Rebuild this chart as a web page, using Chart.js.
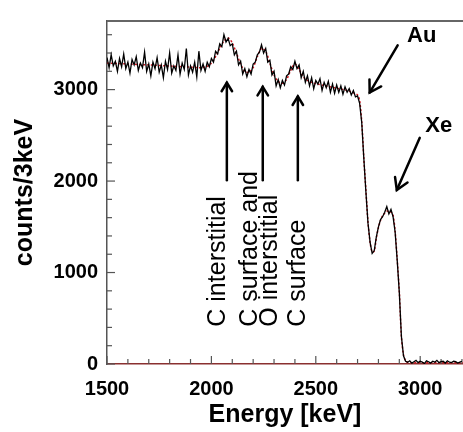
<!DOCTYPE html>
<html>
<head>
<meta charset="utf-8">
<script src="https://cdn.jsdelivr.net/npm/chart.js@4.4.1/dist/chart.umd.min.js"></script>
<style>
  html, body { margin: 0; padding: 0; background: #fff; }
  #wrap { width: 463px; height: 432px; position: relative; }
</style>
</head>
<body>
<div id="wrap"><canvas id="chart" width="463" height="432"></canvas></div>
<script>
// measured spectrum, 10 keV bins starting at 1500 keV
const binStart = 1500;
const binWidth = 10;
const counts = [
  3350, 3240, 3380, 3260, 3310, 3200, 3340, 3250, 3390, 3230,
  3300, 3180, 3330, 3270, 3360, 3210, 3290, 3240, 3410, 3200,
  3280, 3150, 3300, 3230, 3350, 3190, 3270, 3130, 3310, 3220,
  3400, 3180, 3260, 3210, 3380, 3170, 3290, 3220, 3450, 3160,
  3260, 3190, 3300, 3140, 3420, 3210, 3280, 3200, 3300, 3250,
  3340, 3300, 3420, 3390, 3500, 3470, 3600, 3520, 3560, 3480,
  3500, 3380, 3420, 3270, 3310, 3170, 3230, 3140, 3220, 3170,
  3280, 3300, 3380, 3410, 3490, 3400, 3450, 3300, 3320, 3160,
  3200, 3040, 3110, 3020, 3100, 3050, 3150, 3170, 3250, 3220,
  3310, 3230, 3270, 3130, 3200, 3080, 3150, 3040, 3130, 3010,
  3100, 3060, 3120, 2990, 3080, 3020, 3090, 2970, 3060, 2960,
  3050, 2970, 3040, 2950, 3030, 2970, 3010, 2940, 2990, 2920,
  2930, 2850, 2640, 2250, 1880, 1540, 1330, 1210, 1240, 1390,
  1500, 1580, 1610, 1660, 1720, 1640, 1690, 1610, 1440, 1130,
  780, 300, 90, 30, 20, 35, 10, 25, 40, 15,
  30, 20, 5, 35, 25, 10, 30, 20, 40, 15,
  25, 30, 10, 35, 20, 15, 30, 25, 10, 20,
  30
];

// fitted curve
const fitEnergy = [
  1500, 1600, 1700, 1800, 1900, 1950, 1980, 2000, 2020, 2040,
  2060, 2080, 2100, 2120, 2140, 2160, 2180, 2200, 2220, 2240,
  2260, 2280, 2300, 2320, 2340, 2360, 2380, 2400, 2420, 2440,
  2460, 2480, 2500, 2550, 2600, 2650, 2680, 2700, 2710, 2720,
  2730, 2740, 2750, 2760, 2770, 2780, 2790, 2800, 2810, 2820,
  2840, 2860, 2870, 2880, 2890, 2900, 2910, 2920, 2930, 2940,
  2960, 3000, 3100, 3205
];
const fitCounts = [
  3290, 3280, 3270, 3258, 3245, 3240, 3255, 3290, 3360, 3450,
  3530, 3565, 3510, 3400, 3280, 3200, 3190, 3240, 3360, 3450,
  3420, 3290, 3160, 3090, 3070, 3110, 3210, 3280, 3220, 3140,
  3100, 3080, 3065, 3040, 3015, 2990, 2965, 2940, 2880, 2650,
  2250, 1900, 1550, 1330, 1225, 1235, 1380, 1490, 1570, 1620,
  1670, 1660, 1630, 1450, 1140, 790, 300, 100, 35, 20,
  15, 15, 15, 15
];

const xTicks = [1500, 2000, 2500, 3000];
const yTicks = [0, 1000, 2000, 3000];

// annotations (data coordinates)
const vArrows = [
  { e: 2074, from: 2010, to: 3075 },
  { e: 2246, from: 2010, to: 3030 },
  { e: 2414, from: 2010, to: 2925 }
];
const vLabels = [
  { e: 2063, c: 408, text: 'C interstitial' },
  { e: 2218, c: 408, text: 'C surface and' },
  { e: 2313, c: 408, text: 'O interstitial' },
  { e: 2450, c: 408, text: 'C surface' }
];
const peakLabels = [
  { text: 'Au', e: 3007, c: 3591, from: [2892, 3484], to: [2758, 2968] },
  { text: 'Xe', e: 3089, c: 2602, from: [2998, 2473], to: [2888, 1903] }
];

const FONT = "'Liberation Sans', Arial, sans-serif";

const spectrum = counts.map((v, i) => ({ x: binStart + i * binWidth, y: v }));
const fit = fitEnergy.map((e, i) => ({ x: e, y: fitCounts[i] }));

function arrowHead(ctx, x1, y1, x2, y2, len) {
  const a = Math.atan2(y2 - y1, x2 - x1);
  ctx.beginPath();
  ctx.moveTo(x2 - len * Math.cos(a - 0.55), y2 - len * Math.sin(a - 0.55));
  ctx.lineTo(x2, y2);
  ctx.lineTo(x2 - len * Math.cos(a + 0.55), y2 - len * Math.sin(a + 0.55));
  ctx.stroke();
}

// frame + inward ticks
const framePlugin = {
  id: 'framePlugin',
  beforeDatasetsDraw(chart) {
    const ctx = chart.ctx;
    const { left, right, top, bottom } = chart.chartArea;
    const xs = chart.scales.x, ys = chart.scales.y;
    ctx.save();
    ctx.strokeStyle = '#666';
    ctx.lineWidth = 2;
    ctx.beginPath();
    ctx.moveTo(left, top);
    ctx.lineTo(right, top);
    ctx.stroke();

    ctx.lineWidth = 1.2;
    ctx.strokeStyle = '#555';
    for (let e = 1500; e <= 3200; e += 100) {
      const x = xs.getPixelForValue(e);
      const len = e % 500 === 0 ? 8 : 5;
      ctx.beginPath();
      ctx.moveTo(x, bottom);
      ctx.lineTo(x, bottom - len);
      ctx.stroke();
    }
    for (let c = 0; c <= 3600; c += 200) {
      const y = ys.getPixelForValue(c);
      const len = c % 1000 === 0 ? 8 : 5;
      ctx.beginPath();
      ctx.moveTo(left, y);
      ctx.lineTo(left + len, y);
      ctx.stroke();
    }
    ctx.restore();
  },
  afterDatasetsDraw(chart) {
    const ctx = chart.ctx;
    const xs = chart.scales.x, ys = chart.scales.y;
    ctx.save();
    ctx.strokeStyle = '#000';
    ctx.fillStyle = '#000';
    ctx.lineWidth = 2.5;
    ctx.lineCap = 'round';

    vArrows.forEach(a => {
      const x = xs.getPixelForValue(a.e);
      const y1 = ys.getPixelForValue(a.from);
      const y2 = ys.getPixelForValue(a.to);
      ctx.beginPath();
      ctx.moveTo(x, y1);
      ctx.lineTo(x, y2);
      ctx.stroke();
      arrowHead(ctx, x, y1, x, y2, 10);
    });

    ctx.font = '25px ' + FONT;
    ctx.textAlign = 'left';
    ctx.textBaseline = 'alphabetic';
    vLabels.forEach(l => {
      ctx.save();
      ctx.translate(xs.getPixelForValue(l.e), ys.getPixelForValue(l.c));
      ctx.rotate(-Math.PI / 2);
      ctx.fillText(l.text, 0, 0);
      ctx.restore();
    });

    ctx.font = 'bold 22px ' + FONT;
    ctx.textAlign = 'center';
    ctx.textBaseline = 'middle';
    peakLabels.forEach(p => {
      ctx.fillText(p.text, xs.getPixelForValue(p.e), ys.getPixelForValue(p.c));
      const x1 = xs.getPixelForValue(p.from[0]), y1 = ys.getPixelForValue(p.from[1]);
      const x2 = xs.getPixelForValue(p.to[0]), y2 = ys.getPixelForValue(p.to[1]);
      ctx.beginPath();
      ctx.moveTo(x1, y1);
      ctx.lineTo(x2, y2);
      ctx.stroke();
      arrowHead(ctx, x1, y1, x2, y2, 13);
    });
    ctx.restore();
  }
};

new Chart(document.getElementById('chart'), {
  type: 'line',
  data: {
    datasets: [
      {
        label: 'data',
        data: spectrum,
        borderColor: '#000',
        borderWidth: 1.3,
        pointRadius: 0,
        tension: 0
      },
      {
        label: 'fit',
        data: fit,
        borderColor: '#d0141e',
        borderWidth: 1.5,
        borderDash: [2, 2],
        pointRadius: 0,
        tension: 0.3
      }
    ]
  },
  options: {
    responsive: false,
    animation: false,
    layout: { padding: { top: 15, right: 0, left: 0, bottom: 0 } },
    plugins: { legend: { display: false }, tooltip: { enabled: false } },
    scales: {
      x: {
        type: 'linear',
        min: 1500,
        max: 3205,
        afterBuildTicks: s => { s.ticks = xTicks.map(v => ({ value: v })); },
        afterFit: s => { s.height = 68; },
        ticks: {
          autoSkip: false, maxRotation: 0, color: '#000', padding: 13,
          font: { family: FONT, size: 20, weight: 'bold' },
          callback: v => String(v)
        },
        grid: { display: false, drawTicks: false },
        border: { display: true, color: '#8a3030', width: 1.5 },
        title: { display: true, text: 'Energy [keV]', color: '#000', font: { family: FONT, size: 25, weight: 'bold' }, padding: { top: 0, bottom: 2 } }
      },
      y: {
        min: 0,
        max: 3750,
        afterBuildTicks: s => { s.ticks = yTicks.map(v => ({ value: v })); },
        afterFit: s => { s.width = 107; },
        ticks: {
          autoSkip: false, color: '#000', padding: 9,
          font: { family: FONT, size: 20, weight: 'bold' },
          callback: v => String(v)
        },
        grid: { display: false, drawTicks: false },
        border: { display: true, color: '#555', width: 1.5 },
        title: { display: true, text: 'counts/3keV', color: '#000', font: { family: FONT, size: 25, weight: 'bold' }, padding: { top: 10, bottom: 0 } }
      }
    }
  },
  plugins: [framePlugin]
});
</script>
</body>
</html>
